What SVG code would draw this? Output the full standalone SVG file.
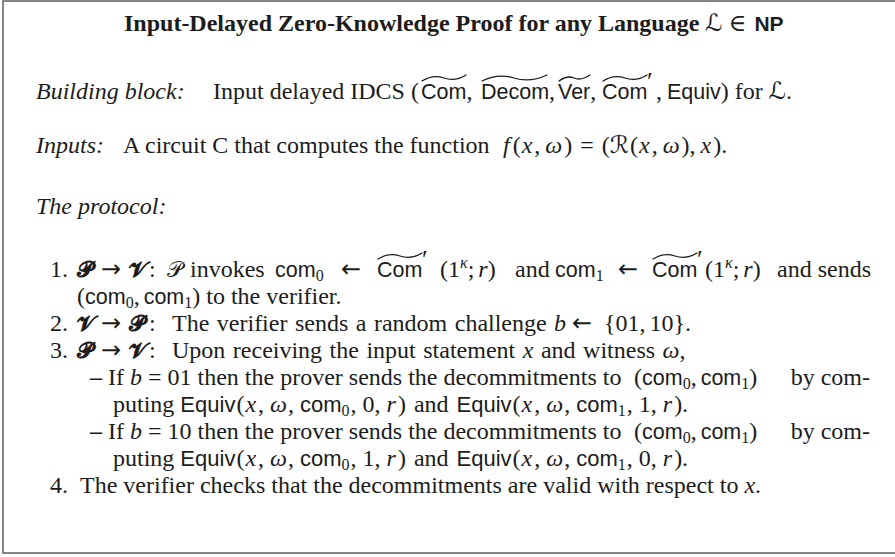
<svg xmlns="http://www.w3.org/2000/svg" width="895" height="557" viewBox="0 0 895 557">
<style>
text{font-family:"Liberation Serif","Times New Roman",serif;font-size:24px;fill:#1c1c1c}
.i{font-style:italic}
.b{font-weight:bold}
.s{font-family:"Liberation Sans",Arial,sans-serif;font-size:21.5px;font-style:normal;font-weight:normal}
.s2{font-family:"Liberation Sans",Arial,sans-serif;font-size:22px;font-style:normal;font-weight:normal}
.sb{font-family:"Liberation Sans",Arial,sans-serif;font-size:21px;font-weight:bold}
.sub{font-size:16px}
.m{font-family:"DejaVu Serif","DejaVu Sans",serif;font-style:normal}
.pv{font-family:"DejaVu Serif","DejaVu Sans",serif;font-style:normal;font-weight:bold;font-size:22px}
.ar{font-family:"DejaVu Sans",sans-serif;font-size:24px;font-weight:normal}
.pr{font-size:26px}
.tl{fill:none;stroke:#1c1c1c;stroke-width:1.3;stroke-linecap:round}
</style>
<rect x="0" y="0" width="895" height="557" fill="#fff"/>
<rect x="3" y="1" width="1000" height="552" fill="none" stroke="#666" stroke-width="1.6"/>

<g id="title">
<text x="124" y="31" class="b">Input-Delayed Zero-Knowledge Proof for any Language <tspan class="m" font-weight="normal">ℒ</tspan><tspan class="m" font-weight="normal" dx="6">∈</tspan><tspan class="sb" dx="8">NP</tspan></text>
</g>

<g id="building-block">
<text y="99"><tspan x="36" class="i">Building block:</tspan><tspan x="213">Input delayed IDCS (</tspan><tspan x="421" class="s">Com</tspan>,<tspan x="481" class="s">Decom</tspan>,<tspan x="558" class="s">Ver</tspan>,<tspan x="602" class="s">Com</tspan><tspan x="656">,</tspan><tspan x="667" class="s">Equiv</tspan>) for <tspan class="m">ℒ</tspan>.</text>
<text x="647" y="90" class="pr">′</text>
</g>

<g id="inputs">
<text y="153"><tspan x="36" class="i">Inputs:</tspan><tspan x="123">A circuit C that computes the function </tspan><tspan x="503" class="i">f</tspan><tspan dx="3">(</tspan><tspan dx="1" class="i">x</tspan><tspan dx="2">,</tspan><tspan dx="5" class="i">ω</tspan><tspan dx="2">)</tspan><tspan dx="8">=</tspan><tspan dx="8">(</tspan><tspan class="m">ℛ</tspan><tspan dx="1">(</tspan><tspan dx="1" class="i">x</tspan><tspan dx="2">,</tspan><tspan dx="5" class="i">ω</tspan><tspan dx="2">),</tspan><tspan dx="5" class="i">x</tspan><tspan dx="2">).</tspan></text>
</g>

<g id="protocol">
<text x="36" y="214" class="i">The protocol:</text>

<text y="277"><tspan x="50">1.</tspan><tspan x="77" class="pv">𝓟</tspan><tspan x="101" class="ar">→</tspan><tspan x="129" class="pv">𝓥</tspan><tspan x="149">:</tspan><tspan x="167" class="m" font-size="22">𝒫</tspan><tspan x="190">invokes</tspan><tspan x="275" class="s">com</tspan><tspan class="sub" dy="4">0</tspan><tspan x="341" dy="-4" class="ar">←</tspan><tspan x="377" class="s">Com</tspan><tspan x="440">(1</tspan><tspan class="i sub" dy="-9">κ</tspan><tspan dy="9">;</tspan><tspan dx="4" class="i">r</tspan>)<tspan x="515">and</tspan><tspan x="555" class="s">com</tspan><tspan class="sub" dy="4">1</tspan><tspan x="618" dy="-4" class="ar">←</tspan><tspan x="652" class="s">Com</tspan><tspan x="705">(1</tspan><tspan class="i sub" dy="-9">κ</tspan><tspan dy="9">;</tspan><tspan dx="4" class="i">r</tspan>)<tspan x="777">and sends</tspan></text>
<text x="422" y="268" class="pr">′</text>
<text x="697" y="268" class="pr">′</text>

<text y="304"><tspan x="77">(</tspan><tspan class="s">com</tspan><tspan class="sub" dy="4">0</tspan><tspan dy="-4">,</tspan><tspan dx="4" class="s">com</tspan><tspan class="sub" dy="4">1</tspan><tspan dy="-4">) to the verifier.</tspan></text>

<text y="331"><tspan x="50">2.</tspan><tspan x="77" class="pv">𝓥</tspan><tspan x="101" class="ar">→</tspan><tspan x="129" class="pv">𝓟</tspan><tspan x="149">:</tspan><tspan x="172" word-spacing="1.5">The verifier sends a random challenge</tspan><tspan x="554" class="i">b</tspan><tspan x="572" class="ar">←</tspan><tspan x="604">{01,</tspan><tspan dx="4">10}.</tspan></text>

<text y="358"><tspan x="50">3.</tspan><tspan x="77" class="pv">𝓟</tspan><tspan x="101" class="ar">→</tspan><tspan x="129" class="pv">𝓥</tspan><tspan x="149">:</tspan><tspan x="172" word-spacing="1.5">Upon receiving the input statement </tspan><tspan class="i">x</tspan><tspan word-spacing="1.5"> and witness </tspan><tspan class="i">ω</tspan>,</text>

<text y="385"><tspan x="90" class="b">–</tspan><tspan x="108">If </tspan><tspan class="i">b</tspan><tspan dx="6">=</tspan><tspan dx="6">01 then the prover sends the decommitments to</tspan><tspan x="634">(</tspan><tspan class="s">com</tspan><tspan class="sub" dy="4">0</tspan><tspan dy="-4">,</tspan><tspan dx="4" class="s">com</tspan><tspan class="sub" dy="4">1</tspan><tspan dy="-4">)</tspan></text>
<text x="870" y="385" text-anchor="end">by com-</text>

<text y="412"><tspan x="113">puting </tspan><tspan class="s2">Equiv</tspan><tspan dx="1">(</tspan><tspan dx="1" class="i">x</tspan><tspan dx="2">,</tspan><tspan dx="6" class="i">ω</tspan><tspan dx="1">,</tspan><tspan dx="6" class="s2">com</tspan><tspan class="sub" dy="4">0</tspan><tspan dy="-4" dx="1">,</tspan><tspan dx="6">0,</tspan><tspan dx="6" class="i">r</tspan><tspan dx="2">)</tspan><tspan dx="8">and</tspan><tspan dx="8" class="s2">Equiv</tspan><tspan dx="1">(</tspan><tspan dx="1" class="i">x</tspan><tspan dx="2">,</tspan><tspan dx="6" class="i">ω</tspan><tspan dx="1">,</tspan><tspan dx="6" class="s2">com</tspan><tspan class="sub" dy="4">1</tspan><tspan dy="-4" dx="1">,</tspan><tspan dx="6">1,</tspan><tspan dx="6" class="i">r</tspan><tspan dx="2">).</tspan></text>

<text y="439"><tspan x="90" class="b">–</tspan><tspan x="108">If </tspan><tspan class="i">b</tspan><tspan dx="6">=</tspan><tspan dx="6">10 then the prover sends the decommitments to</tspan><tspan x="634">(</tspan><tspan class="s">com</tspan><tspan class="sub" dy="4">0</tspan><tspan dy="-4">,</tspan><tspan dx="4" class="s">com</tspan><tspan class="sub" dy="4">1</tspan><tspan dy="-4">)</tspan></text>
<text x="870" y="439" text-anchor="end">by com-</text>

<text y="466"><tspan x="113">puting </tspan><tspan class="s2">Equiv</tspan><tspan dx="1">(</tspan><tspan dx="1" class="i">x</tspan><tspan dx="2">,</tspan><tspan dx="6" class="i">ω</tspan><tspan dx="1">,</tspan><tspan dx="6" class="s2">com</tspan><tspan class="sub" dy="4">0</tspan><tspan dy="-4" dx="1">,</tspan><tspan dx="6">1,</tspan><tspan dx="6" class="i">r</tspan><tspan dx="2">)</tspan><tspan dx="8">and</tspan><tspan dx="8" class="s2">Equiv</tspan><tspan dx="1">(</tspan><tspan dx="1" class="i">x</tspan><tspan dx="2">,</tspan><tspan dx="6" class="i">ω</tspan><tspan dx="1">,</tspan><tspan dx="6" class="s2">com</tspan><tspan class="sub" dy="4">1</tspan><tspan dy="-4" dx="1">,</tspan><tspan dx="6">0,</tspan><tspan dx="6" class="i">r</tspan><tspan dx="2">).</tspan></text>

<text y="493"><tspan x="50">4.</tspan><tspan x="80">The verifier checks that the decommitments are valid with respect to </tspan><tspan class="i">x</tspan>.</text>
</g>

<g id="tildes">
<path class="tl" d="M422 81 Q433 74 444 78 T466 75"/>
<path class="tl" d="M482 81 Q498 73 514 78 T547 75"/>
<path class="tl" d="M559 81 Q567 75 574 78 T590 75"/>
<path class="tl" d="M603 81 Q614 74 625 78 T647 75"/>
<path class="tl" d="M378 259 Q389 252 400 256 T422 253"/>
<path class="tl" d="M653 259 Q664 252 675 256 T697 253"/>
</g>
</svg>
